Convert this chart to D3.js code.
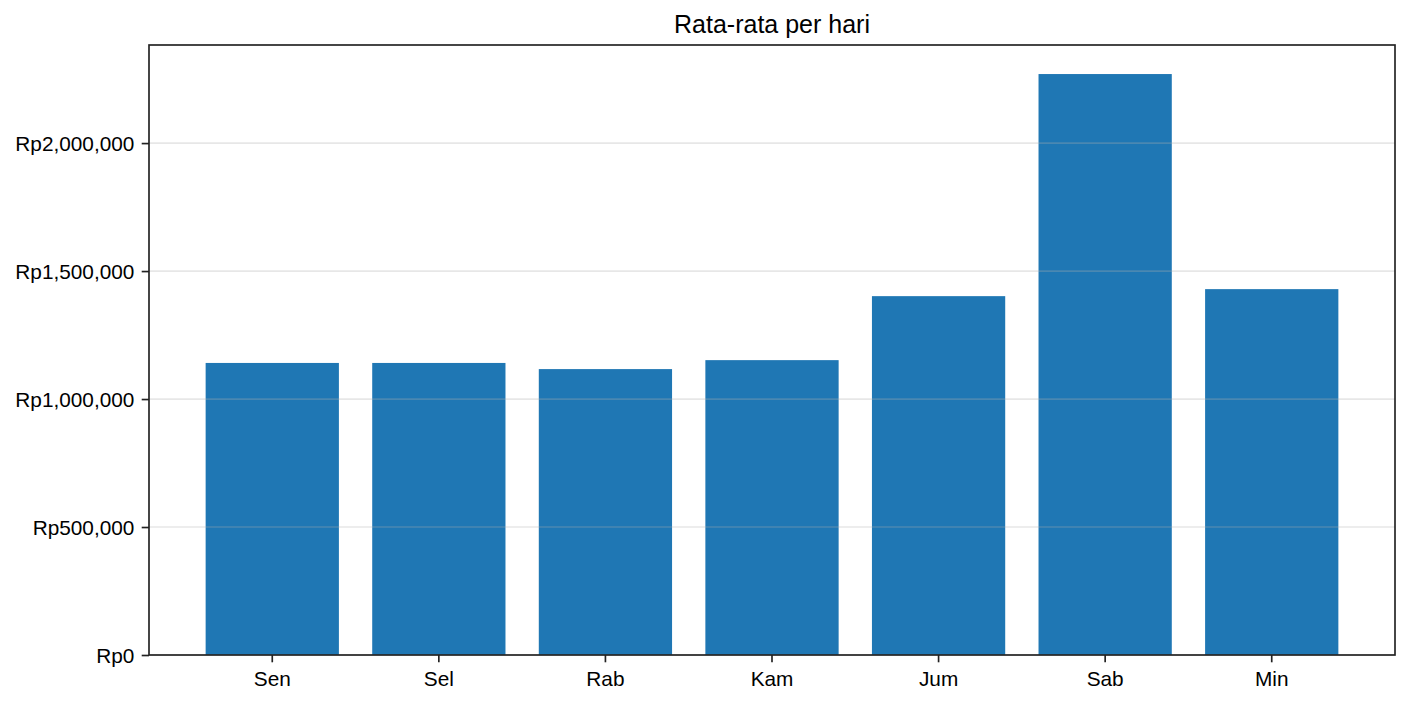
<!DOCTYPE html>
<html>
<head>
<meta charset="utf-8">
<script src="https://cdn.jsdelivr.net/npm/d3@7"></script>
<style>
    body { margin: 0; background: #fff; }
    text { font-family: "Liberation Sans", Arial, sans-serif; fill: #000; }
</style>
</head>
<body>
<script>
// data
const days = ["Sen", "Sel", "Rab", "Kam", "Jum", "Sab", "Min"];
const averages = [1141000, 1141000, 1117000, 1152000, 1402000, 2269700, 1429400];
const yTicks = [0, 500000, 1000000, 1500000, 2000000];

let width = 1410,
    height = 704,
    margin = {top: 45, right: 15, bottom: 49, left: 149};

let svg = d3.select("body").append("svg")
    .attr("width", width)
    .attr("height", height);

let x = d3.scaleBand()
    .domain(days)
    .range([margin.left, width - margin.right])
    .paddingInner(0.2)
    .paddingOuter(0.34);

let y = d3.scaleLinear()
    .domain([0, d3.max(averages) * 1.05])
    .range([height - margin.bottom, margin.top]);

const rupiah = (v) => "Rp" + d3.format(",")(v);

// bars
svg.append("g").selectAll("rect")
    .data(days)
    .enter().append("rect")
    .attr("x", (d) => x(d))
    .attr("width", x.bandwidth())
    .attr("y", (d, i) => y(averages[i]))
    .attr("height", (d, i) => y(0) - y(averages[i]))
    .attr("fill", "#1f77b4");

// grid sits above the bars, like matplotlib
svg.append("g").selectAll("line")
    .data(yTicks)
    .enter().append("line")
    .attr("x1", margin.left)
    .attr("x2", width - margin.right)
    .attr("y1", (d) => y(d))
    .attr("y2", (d) => y(d))
    .attr("stroke", "#b0b0b0")
    .attr("stroke-opacity", 0.3)
    .attr("stroke-width", 1.67);

// axes
let yAxis = svg.append("g")
    .attr("transform", "translate(" + margin.left + ",0)")
    .call(d3.axisLeft(y).tickValues(yTicks).tickFormat(rupiah).tickSizeOuter(0).tickSize(7.3).tickPadding(7.3));

let xAxis = svg.append("g")
    .attr("transform", "translate(0," + (height - margin.bottom) + ")")
    .call(d3.axisBottom(x).tickSizeOuter(0).tickSize(7.3).tickPadding(8.9));

[xAxis, yAxis].forEach((a) => {
    a.select(".domain").remove();
    a.selectAll(".tick line").attr("stroke", "#222").attr("stroke-width", 1.67);
    a.selectAll(".tick text")
        .attr("font-family", "Liberation Sans, Arial, sans-serif")
        .attr("font-size", 20.8)
        .attr("fill", "#000");
});
yAxis.selectAll(".tick text").attr("dy", "0.37em");

// frame
svg.append("rect")
    .attr("x", margin.left)
    .attr("y", margin.top)
    .attr("width", width - margin.left - margin.right)
    .attr("height", height - margin.top - margin.bottom)
    .attr("fill", "none")
    .attr("stroke", "#222")
    .attr("stroke-width", 1.67);

svg.append("text")
    .attr("x", (margin.left + width - margin.right) / 2)
    .attr("y", margin.top - 12.5)
    .attr("text-anchor", "middle")
    .attr("font-size", 25)
    .text("Rata-rata per hari");
</script>
</body>
</html>
